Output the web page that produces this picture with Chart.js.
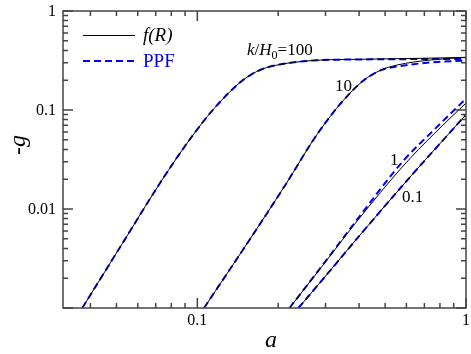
<!DOCTYPE html>
<html>
<head>
<meta charset="utf-8">
<script src="https://cdn.jsdelivr.net/npm/chart.js@4.4.0/dist/chart.umd.min.js"></script>
<style>
body { margin: 0; background: #fff; }
</style>
</head>
<body>
<canvas id="growth" width="471" height="354"></canvas>
<script>
// k/H0 = 100
const a100   = [0.0373, 0.0524, 0.0738, 0.0945, 0.1145, 0.1432, 0.1587, 0.1746, 0.2021, 0.2339, 0.278, 0.413, 0.675, 1.0];
const fR100  = [0.001, 0.00441, 0.01955, 0.052, 0.1009, 0.187, 0.228, 0.2592, 0.2877, 0.305, 0.3181, 0.3256, 0.3325, 0.3402];
const ppf100 = [0.001, 0.00441, 0.01955, 0.052, 0.1009, 0.187, 0.228, 0.2592, 0.2877, 0.305, 0.318, 0.324, 0.327, 0.328];
// k/H0 = 10
const a10    = [0.1059, 0.1561, 0.2147, 0.2685, 0.3109, 0.3476, 0.4129, 0.478, 0.5535, 0.7354, 1.0];
const fR10   = [0.001, 0.00484, 0.01823, 0.0485, 0.0848, 0.123, 0.196, 0.2503, 0.2844, 0.3196, 0.3402];
const ppf10  = [0.001, 0.00484, 0.01823, 0.0485, 0.0848, 0.123, 0.196, 0.2503, 0.2749, 0.3016, 0.3159];
// k/H0 = 1
const a1     = [0.2203, 0.2953, 0.3956, 0.5827, 0.7613, 1.0];
const fR1    = [0.001, 0.002767, 0.0077, 0.02708, 0.0577, 0.1174];
const ppf1   = [0.001, 0.0028, 0.00798, 0.0304, 0.0633, 0.1304];
// k/H0 = 0.1
const a01    = [0.2379, 0.3109, 0.4025, 0.628, 0.7877, 1.0];
const fR01   = [0.001, 0.002355, 0.00543, 0.022, 0.0437, 0.0898];
const ppf01  = [0.001, 0.002355, 0.00543, 0.022, 0.0437, 0.0898];

const xTickVals = [0.1, 1];
const xTickText = ['0.1', '1'];
const yTickVals = [1, 0.1, 0.01];
const yTickText = ['1', '0.1', '0.01'];

const serif = "'Liberation Serif', serif";
const blue = '#0000ff';

function pts(xs, ys) {
  return xs.map((v, i) => ({ x: v, y: ys[i] }));
}

function solid(xs, ys) {
  return { data: pts(xs, ys), borderColor: '#000', borderWidth: 1, pointRadius: 0, cubicInterpolationMode: 'monotone' };
}
function dashed(xs, ys) {
  return { data: pts(xs, ys), borderColor: blue, borderWidth: 2, borderDash: [7, 4], pointRadius: 0, cubicInterpolationMode: 'monotone' };
}

const frame = {
  id: 'frame',
  afterDatasetsDraw(chart) {
    const { ctx, chartArea: ca } = chart;
    const xs = chart.scales.x, ys = chart.scales.y;
    ctx.save();
    ctx.strokeStyle = '#444';
    ctx.lineWidth = 1.5;
    ctx.strokeRect(ca.left, ca.top, ca.right - ca.left, ca.bottom - ca.top);

    ctx.beginPath();
    // x ticks, top and bottom, inward
    [0.01, 0.1, 1].forEach(d => {
      for (let m = 1; m <= 9; m++) {
        const v = m * d;
        if (v < xs.min * 0.999 || v > xs.max * 1.001) continue;
        const px = xs.getPixelForValue(v);
        const len = m === 1 ? 10 : 5;
        ctx.moveTo(px, ca.bottom); ctx.lineTo(px, ca.bottom - len);
        ctx.moveTo(px, ca.top); ctx.lineTo(px, ca.top + len);
      }
    });
    // y ticks, left and right, inward
    [0.001, 0.01, 0.1, 1].forEach(d => {
      for (let m = 1; m <= 9; m++) {
        const v = m * d;
        if (v < ys.min * 0.999 || v > ys.max * 1.001) continue;
        const py = ys.getPixelForValue(v);
        const len = m === 1 ? 10 : 5;
        ctx.moveTo(ca.left, py); ctx.lineTo(ca.left + len, py);
        ctx.moveTo(ca.right, py); ctx.lineTo(ca.right - len, py);
      }
    });
    ctx.stroke();

    // tick labels
    ctx.fillStyle = '#000';
    ctx.font = '16px ' + serif;
    ctx.textAlign = 'right';
    ctx.textBaseline = 'middle';
    yTickVals.forEach((v, i) => {
      ctx.fillText(yTickText[i], ca.left - 7, ys.getPixelForValue(v) + 1);
    });
    ctx.textAlign = 'center';
    ctx.textBaseline = 'top';
    xTickVals.forEach((v, i) => {
      ctx.fillText(xTickText[i], xs.getPixelForValue(v), ca.bottom + 5);
    });

    // axis titles
    ctx.font = 'italic 24px ' + serif;
    ctx.textBaseline = 'alphabetic';
    ctx.fillText('a', 271, 347);
    ctx.save();
    ctx.translate(25, 145);
    ctx.rotate(-Math.PI / 2);
    ctx.fillText('-g', 0, 0);
    ctx.restore();

    // legend
    ctx.lineWidth = 1;
    ctx.strokeStyle = '#000';
    ctx.beginPath(); ctx.moveTo(83, 35.5); ctx.lineTo(135, 35.5); ctx.stroke();
    ctx.lineWidth = 2;
    ctx.strokeStyle = blue;
    ctx.setLineDash([7, 4]);
    ctx.beginPath(); ctx.moveTo(83, 61); ctx.lineTo(135, 61); ctx.stroke();
    ctx.setLineDash([]);
    ctx.textAlign = 'left';
    ctx.textBaseline = 'middle';
    ctx.font = 'italic 19px ' + serif;
    ctx.fillStyle = '#000';
    ctx.fillText('f(R)', 143, 36);
    ctx.font = '19px ' + serif;
    ctx.fillStyle = blue;
    ctx.fillText('PPF', 143, 62);

    // curve labels
    ctx.fillStyle = '#000';
    ctx.textBaseline = 'alphabetic';
    let x0 = 247;
    ctx.font = 'italic 17px ' + serif;
    ctx.fillText('k', x0, 55); x0 += ctx.measureText('k').width;
    ctx.font = '17px ' + serif;
    ctx.fillText('/', x0, 55); x0 += ctx.measureText('/').width;
    ctx.font = 'italic 17px ' + serif;
    ctx.fillText('H', x0, 55); x0 += ctx.measureText('H').width;
    ctx.font = '12px ' + serif;
    ctx.fillText('0', x0, 59); x0 += ctx.measureText('0').width;
    ctx.font = '17px ' + serif;
    ctx.fillText('=100', x0, 55);
    ctx.fillText('10', 335, 91);
    ctx.fillText('1', 390, 165);
    ctx.fillText('0.1', 402, 202);
    ctx.restore();
  }
};

new Chart(document.getElementById('growth'), {
  type: 'line',
  data: {
    datasets: [
      solid(a100, fR100), solid(a10, fR10), solid(a1, fR1), solid(a01, fR01),
      dashed(a100, ppf100), dashed(a10, ppf10), dashed(a1, ppf1), dashed(a01, ppf01)
    ]
  },
  options: {
    responsive: false,
    animation: false,
    layout: { padding: { left: 63, top: 11, right: 5, bottom: 46 } },
    plugins: { legend: { display: false }, tooltip: { enabled: false } },
    scales: {
      x: { type: 'logarithmic', min: Math.pow(10, -1.5), max: 1, display: false },
      y: { type: 'logarithmic', min: 0.001, max: 1, display: false }
    }
  },
  plugins: [frame]
});
</script>
</body>
</html>
